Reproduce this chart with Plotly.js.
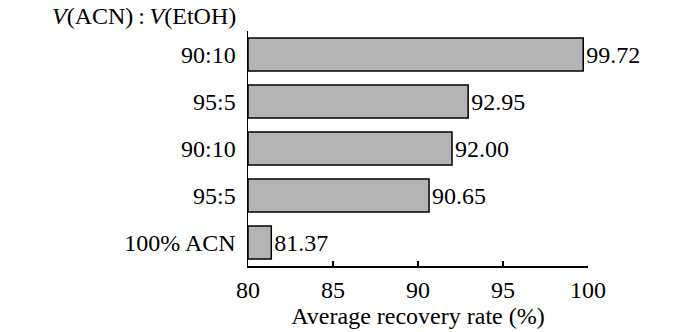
<!DOCTYPE html>
<html>
<head>
<meta charset="utf-8">
<script src="https://cdn.plot.ly/plotly-3.0.1.min.js"></script>
<style>html,body{margin:0;padding:0;background:#fff;}#chart{width:700px;height:332px;}</style>
</head>
<body>
<div id="chart"></div>
<script>
const categories = ["90:10", "95:5", "90:10", "95:5", "100% ACN"];
const values = [99.72, 92.95, 92.00, 90.65, 81.37];
const xTicks = [80, 85, 90, 95, 100];
const axisStart = 80;

const positions = categories.map((c, i) => i);
const font = {family: "Liberation Serif, Times New Roman, serif", size: 24, color: "#000"};

const trace = {
  type: "bar",
  orientation: "h",
  y: positions,
  x: values.map(v => v - axisStart),
  base: axisStart,
  text: values.map(v => v.toFixed(2)),
  textposition: "outside",
  textfont: font,
  constraintext: "none",
  cliponaxis: false,
  marker: {color: "#b4b4b4", line: {color: "#000", width: 1.5}},
  hoverinfo: "none"
};

const layout = {
  width: 700, height: 332,
  margin: {l: 248, r: 112, t: 31, b: 66},
  paper_bgcolor: "#fff", plot_bgcolor: "#fff",
  font: font,
  showlegend: false,
  bargap: 0.3,
  xaxis: {
    range: [80, 100],
    tickvals: xTicks,
    ticktext: xTicks.map(String),
    ticks: "inside", ticklen: 5, tickwidth: 1.5, tickcolor: "#000",
    showline: true, linecolor: "#000", linewidth: 1.5,
    showgrid: false, zeroline: false,
    tickfont: font,
    ticklabelstandoff: 2,
    title: {text: "Average recovery rate (%)", font: font, standoff: 0}
  },
  yaxis: {
    range: [4.5, -0.5],
    tickvals: positions,
    ticktext: categories,
    ticks: "", showline: true, linecolor: "#000", linewidth: 1.5,
    showgrid: false, zeroline: false,
    tickfont: font,
    ticklabelstandoff: 6
  },
  annotations: [{
    text: "<i>V</i>(ACN)\u2009:\u2009<i>V</i>(EtOH)",
    xref: "paper", yref: "paper",
    x: -0.03, y: 1.0, xanchor: "right", yanchor: "bottom",
    showarrow: false, font: font
  }]
};

Plotly.newPlot("chart", [trace], layout, {displayModeBar: false, staticPlot: true});
</script>
</body>
</html>
